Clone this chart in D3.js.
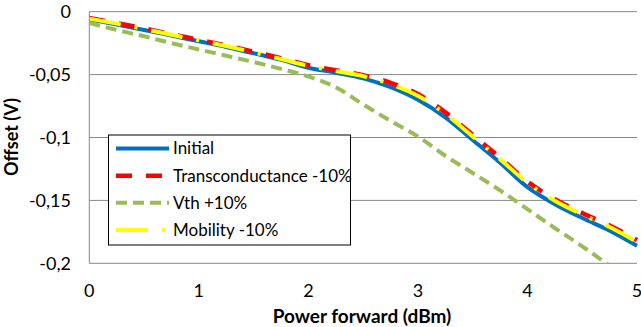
<!DOCTYPE html>
<html>
<head>
<meta charset="utf-8">
<script src="https://cdn.jsdelivr.net/npm/d3@7"></script>
<style>
  body { margin: 0; background: #fff; }
  text { font-family: Lato, "Open Sans", sans-serif; fill: #000; }
</style>
</head>
<body>
<svg id="chart" width="641" height="327"></svg>
<script>
// power forward (dBm)
const powerX = [0, 0.25, 0.5, 0.75, 1, 1.25, 1.5, 1.75, 2, 2.25, 2.5, 2.75, 3, 3.25, 3.5, 3.75, 4, 4.25, 4.5, 4.75, 5];

const initial = [-0.0060, -0.0103, -0.0145, -0.0190, -0.0235, -0.0280, -0.0330, -0.0383, -0.0445, -0.0485, -0.0530,
  -0.0600, -0.0700, -0.0840, -0.1020, -0.1200, -0.1395, -0.1530, -0.1640, -0.1740, -0.1860];
const transconductance = [-0.0050, -0.0090, -0.0133, -0.0178, -0.0223, -0.0268, -0.0318, -0.0370, -0.0425, -0.0465, -0.0505,
  -0.0565, -0.0655, -0.0800, -0.0980, -0.1160, -0.1350, -0.1490, -0.1600, -0.1700, -0.1815];
const vth = [-0.0090, -0.0145, -0.0195, -0.0250, -0.0300, -0.0350, -0.0400, -0.0455, -0.0515, -0.0600, -0.0737,
  -0.0868, -0.0992, -0.1145, -0.1282, -0.1420, -0.1570, -0.1720, -0.1865, -0.2020, null];
const mobility = [-0.0055, -0.0095, -0.0138, -0.0183, -0.0228, -0.0273, -0.0323, -0.0376, -0.0430, -0.0472, -0.0512,
  -0.0575, -0.0668, -0.0812, -0.0992, -0.1172, -0.1360, -0.1502, -0.1612, -0.1712, -0.1830];

const yTicks = [0, -0.05, -0.1, -0.15, -0.2];
const xTicks = [0, 1, 2, 3, 4, 5];

const series = [
  { name: "Initial", values: initial, color: "#0070c0", dash: null, width: 4 },
  { name: "Transconductance -10%", values: transconductance, color: "#ff0000", dash: "16,14", width: 4.5 },
  { name: "Vth +10%", values: vth, color: "#9bbb59", dash: "11,6", width: 4 },
  { name: "Mobility -10%", values: mobility, color: "#ffff00", dash: "32,14,3,14", width: 4 }
];

const svg = d3.select("#chart");
const plot = { left: 89.3, right: 637, top: 11.7, bottom: 263.3 };

const x = d3.scaleLinear().domain([0, 5]).range([plot.left, plot.right]);
const y = d3.scaleLinear().domain([-0.2, 0]).range([plot.bottom, plot.top]);

// gridlines
svg.append("g")
  .selectAll("line")
  .data(yTicks)
  .join("line")
  .attr("x1", plot.left)
  .attr("x2", plot.right)
  .attr("y1", d => y(d))
  .attr("y2", d => y(d))
  .attr("stroke", "#888")
  .attr("stroke-width", 1);

// left axis line
svg.append("line")
  .attr("x1", plot.left).attr("x2", plot.left)
  .attr("y1", plot.top).attr("y2", plot.bottom)
  .attr("stroke", "#888");

const fmt = d => d === 0 ? "0" : String(d).replace(".", ",");

// y tick labels
svg.append("g")
  .selectAll("text")
  .data(yTicks)
  .join("text")
  .attr("x", 71)
  .attr("y", d => y(d))
  .attr("dy", "0.35em")
  .attr("text-anchor", "end")
  .style("font-size", "18px")
  .text(fmt);

// x tick labels
svg.append("g")
  .selectAll("text")
  .data(xTicks)
  .join("text")
  .attr("x", d => x(d))
  .attr("y", 297)
  .attr("text-anchor", "middle")
  .style("font-size", "18px")
  .text(d => d);

// axis titles
svg.append("text")
  .attr("x", 362)
  .attr("y", 323)
  .attr("text-anchor", "middle")
  .style("font-size", "19px")
  .style("font-weight", "bold")
  .text("Power forward (dBm)");

svg.append("text")
  .attr("transform", "translate(18,137) rotate(-90)")
  .attr("text-anchor", "middle")
  .style("font-size", "18px")
  .style("font-weight", "bold")
  .text("Offset (V)");

// clip
svg.append("clipPath").attr("id", "plotClip")
  .append("rect")
  .attr("x", plot.left).attr("y", plot.top - 10)
  .attr("width", plot.right - plot.left + 4)
  .attr("height", plot.bottom - plot.top + 10);

const line = d3.line()
  .defined(d => d[1] !== null)
  .x(d => x(d[0]))
  .y(d => y(d[1]))
  .curve(d3.curveMonotoneX);

const lines = svg.append("g").attr("clip-path", "url(#plotClip)");
series.forEach(s => {
  lines.append("path")
    .datum(powerX.map((p, i) => [p, s.values[i]]))
    .attr("d", line)
    .attr("fill", "none")
    .attr("stroke", s.color)
    .attr("stroke-width", s.width)
    .attr("stroke-dasharray", s.dash);
});

// legend
const legend = svg.append("g");
legend.append("rect")
  .attr("x", 108.5).attr("y", 135)
  .attr("width", 242).attr("height", 110)
  .attr("fill", "#fff")
  .attr("stroke", "#000")
  .attr("stroke-width", 1);

const legendY = d3.scalePoint().domain(series.map(s => s.name)).range([148.5, 230]);

series.forEach(s => {
  const ly = legendY(s.name);
  legend.append("line")
    .attr("x1", 116).attr("x2", 169)
    .attr("y1", ly).attr("y2", ly)
    .attr("stroke", s.color)
    .attr("stroke-width", s.width)
    .attr("stroke-dasharray", s.dash);
  legend.append("text")
    .attr("x", 173)
    .attr("y", ly)
    .attr("dy", "0.35em")
    .style("font-size", "17px")
    .text(s.name);
});
</script>
</body>
</html>
